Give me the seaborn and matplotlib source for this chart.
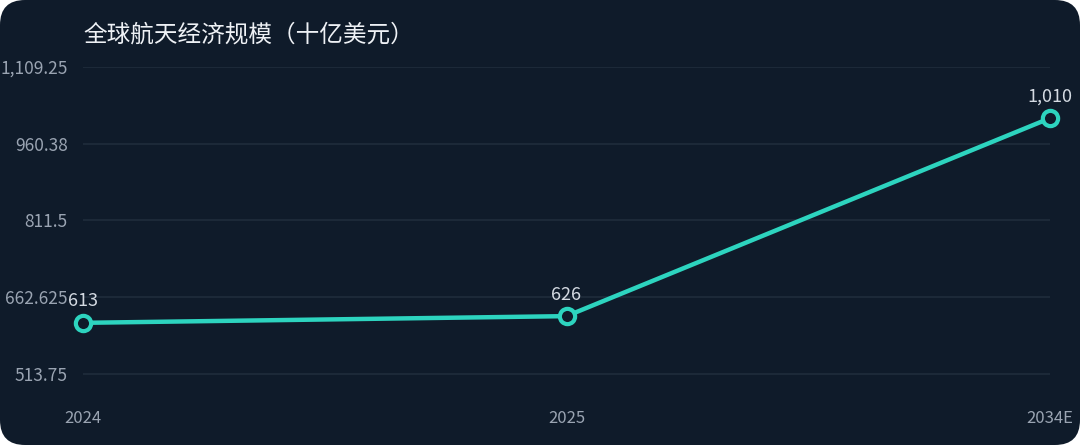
import matplotlib
matplotlib.use("Agg")
import matplotlib.pyplot as plt
import seaborn as sns
from matplotlib.patches import FancyBboxPatch

# Data
years = ["2024", "2025", "2034E"]
values = [613, 626, 1010]
y_ticks = [513.75, 662.625, 811.5, 960.375, 1109.25]
y_tick_labels = ["513.75", "662.625", "811.5", "960.38", "1,109.25"]
title = "全球航天经济规模（十亿美元）"

# Colors
bg = "#0f1b2a"
teal = "#2dd4bf"
grid_color = "#1f2c3c"
tick_color = "#9aa4b2"

sns.set_theme(style="dark")
plt.rcParams["font.family"] = ["Noto Sans CJK SC", "DejaVu Sans"]

fig = plt.figure(figsize=(10.8, 4.45), dpi=100)
fig.patch.set_facecolor("white")

# rounded dark panel
panel = FancyBboxPatch((0, 0), 10.8, 4.45, boxstyle="round,pad=0,rounding_size=0.25",
                       transform=fig.dpi_scale_trans, facecolor=bg, edgecolor="none", zorder=-5)
fig.patches.append(panel)

ax = fig.add_axes([83 / 1080, 1 - 400 / 445, (1050 - 83) / 1080, (400 - 67) / 445])
ax.set_zorder(5)
ax.set_facecolor("none")

sns.lineplot(
    x=years, y=values, ax=ax, color=teal, linewidth=3.2,
    marker="o", markersize=11, markerfacecolor=bg,
    markeredgecolor=teal, markeredgewidth=3, clip_on=False, zorder=3
)

ax.set_xlim(0, 2)
ax.set_ylim(513.75 - 26 / 0.5155, 1109.25)
ax.set_yticks(y_ticks)
ax.set_yticklabels(y_tick_labels)

ax.grid(axis="y", color=grid_color, linewidth=1.2)
ax.grid(axis="x", visible=False)
for s in ax.spines.values():
    s.set_visible(False)

ax.tick_params(axis="y", colors=tick_color, labelsize=12.5, pad=11, length=0)
ax.tick_params(axis="x", colors=tick_color, labelsize=12, pad=7, length=0)
ax.set_xlabel("")
ax.set_ylabel("")

# value labels
for i, v in enumerate(values):
    ax.annotate(f"{v:,}", (i, v), xytext=(0, 9), textcoords="offset points",
                ha="center", va="bottom", color="#d4dae2", fontsize=13, zorder=4,
                annotation_clip=False)

fig.text(83 / 1080, 1 - 35 / 445, title, color="#eef1f5", fontsize=17,
         ha="left", va="center", zorder=6)

fig.savefig("out.png", dpi=100, facecolor=fig.get_facecolor())
